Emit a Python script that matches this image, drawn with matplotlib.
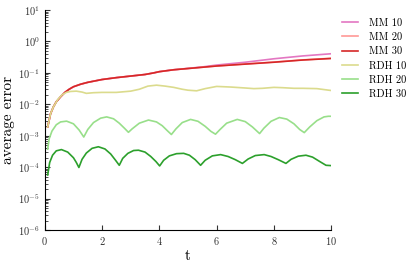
import numpy as np
import matplotlib
matplotlib.use("Agg")
import matplotlib.pyplot as plt

plt.rcParams['font.family'] = ['cmr10', 'DejaVu Serif']
plt.rcParams['mathtext.fontset'] = 'cm'
plt.rcParams['axes.formatter.use_mathtext'] = True

# ---- data (log10 of average error) ----
t_mm = [0.1, 0.2, 0.3, 0.4, 0.55, 0.7, 0.85, 1.0, 1.25, 1.5, 2.0, 2.5, 3.0, 3.5,
        3.8, 4.0, 4.5, 5.0, 5.5, 6.0, 7.0, 8.0, 9.0, 10.0]
mm30_log = [-2.72, -2.30, -2.08, -1.92, -1.76, -1.62, -1.52, -1.44, -1.36, -1.30,
            -1.21, -1.15, -1.10, -1.05, -1.00, -0.96, -0.90, -0.86, -0.82, -0.78,
            -0.72, -0.66, -0.59, -0.54]
mm20_log = [-2.72, -2.30, -2.08, -1.92, -1.76, -1.62, -1.52, -1.44, -1.36, -1.30,
            -1.21, -1.15, -1.10, -1.05, -1.00, -0.96, -0.90, -0.86, -0.82, -0.78,
            -0.715, -0.655, -0.585, -0.535]
mm10_log = [-2.72, -2.30, -2.08, -1.92, -1.76, -1.62, -1.52, -1.44, -1.36, -1.30,
            -1.21, -1.15, -1.10, -1.05, -1.00, -0.96, -0.90, -0.855, -0.81, -0.75,
            -0.66, -0.55, -0.46, -0.39]

t_rdh10 = [0.1, 0.2, 0.3, 0.45, 0.6, 0.75, 0.9, 1.1, 1.3, 1.45, 1.7, 2.0, 2.5, 3.0,
           3.3, 3.6, 3.9, 4.2, 4.5, 4.8, 5.0, 5.3, 5.6, 6.0, 6.5, 7.0, 7.3, 7.6,
           8.0, 8.3, 8.7, 9.0, 9.5, 10.0]
rdh10_log = [-2.72, -2.30, -2.08, -1.85, -1.70, -1.62, -1.59, -1.58, -1.61, -1.65,
             -1.63, -1.62, -1.62, -1.58, -1.52, -1.42, -1.39, -1.42, -1.46, -1.52,
             -1.55, -1.57, -1.50, -1.43, -1.45, -1.48, -1.50, -1.49, -1.46, -1.47,
             -1.49, -1.49, -1.50, -1.56]

t_rdh20 = [0.1, 0.15, 0.25, 0.4, 0.55, 0.76, 1.0, 1.2, 1.36, 1.5, 1.7, 1.95, 2.16,
           2.4, 2.6, 2.78, 2.92, 3.05, 3.3, 3.62, 3.9, 4.1, 4.28, 4.42, 4.58, 4.8,
           5.09, 5.35, 5.6, 5.8, 5.96, 6.12, 6.35, 6.72, 7.0, 7.25, 7.5, 7.65, 7.9,
           8.19, 8.45, 8.7, 8.9, 9.06, 9.25, 9.5, 9.75, 9.9, 10.0]
rdh20_log = [-3.43, -3.10, -2.85, -2.65, -2.56, -2.535, -2.62, -2.82, -3.04, -2.80,
             -2.58, -2.44, -2.40, -2.46, -2.60, -2.76, -2.89, -2.78, -2.60, -2.50,
             -2.56, -2.68, -2.84, -2.96, -2.78, -2.58, -2.48, -2.54, -2.70, -2.86,
             -2.95, -2.80, -2.60, -2.48, -2.55, -2.72, -2.93, -2.76, -2.54, -2.42,
             -2.47, -2.62, -2.80, -2.90, -2.72, -2.52, -2.40, -2.38, -2.38]

t_rdh30 = [0.1, 0.17, 0.27, 0.4, 0.58, 0.8, 1.0, 1.1, 1.19, 1.3, 1.45, 1.65, 1.87,
           2.1, 2.3, 2.47, 2.6, 2.72, 2.9, 3.1, 3.27, 3.5, 3.7, 3.88, 4.01, 4.15,
           4.35, 4.6, 4.85, 5.05, 5.25, 5.44, 5.6, 5.85, 6.14, 6.4, 6.65, 6.9, 7.1,
           7.35, 7.66, 7.9, 8.15, 8.42, 8.6, 8.85, 9.12, 9.35, 9.6, 9.82, 10.0]
rdh30_log = [-4.25, -3.85, -3.62, -3.48, -3.44, -3.52, -3.70, -3.85, -4.01, -3.75,
             -3.55, -3.40, -3.35, -3.42, -3.58, -3.78, -3.94, -3.72, -3.56, -3.47,
             -3.46, -3.52, -3.66, -3.82, -3.96, -3.78, -3.64, -3.57, -3.56, -3.62,
             -3.76, -3.94, -3.78, -3.64, -3.60, -3.66, -3.76, -3.88, -3.74, -3.63,
             -3.60, -3.66, -3.76, -3.88, -3.75, -3.65, -3.62, -3.68, -3.82, -3.94,
             -3.95]

labels = ['MM 10', 'MM 20', 'MM 30', 'RDH 10', 'RDH 20', 'RDH 30']
colors = ['#e377c2', '#ff9896', '#d62728', '#dbdb8d', '#98df8a', '#2ca02c']

series = [(t_mm, mm10_log), (t_mm, mm20_log), (t_mm, mm30_log),
          (t_rdh10, rdh10_log), (t_rdh20, rdh20_log), (t_rdh30, rdh30_log)]

fig = plt.figure(figsize=(4.15, 2.65), dpi=100)
ax = fig.add_axes([0.108, 0.132, 0.690, 0.830])

for (t, lg), lab, c in zip(series, labels, colors):
    ax.plot(t, 10.0 ** np.array(lg), color=c, lw=1.2, label=lab)

ax.set_yscale('log')
ax.set_xlim(0, 10)
ax.set_ylim(1e-6, 1e1)
ax.set_xticks([0, 2, 4, 6, 8, 10])
ax.spines['top'].set_visible(False)
ax.spines['right'].set_visible(False)
ax.tick_params(which='both', direction='in', top=False, right=False, labelsize=7.5,
               colors='#333333')
ax.tick_params(which='major', length=3.5)
ax.tick_params(which='minor', length=2)
ax.tick_params(axis='x', which='minor', bottom=False)
ax.set_xlabel('t', fontsize=11, labelpad=2)
ax.set_ylabel('average error', fontsize=11, labelpad=2)

fig.legend(loc='upper left', bbox_to_anchor=(337.5 / 415, 1 - 14 / 265),
           borderaxespad=0, frameon=False, fontsize=7.5,
           handlelength=1.54, labelspacing=0.46, handletextpad=1.06)

fig.savefig('out.png', dpi=100)
